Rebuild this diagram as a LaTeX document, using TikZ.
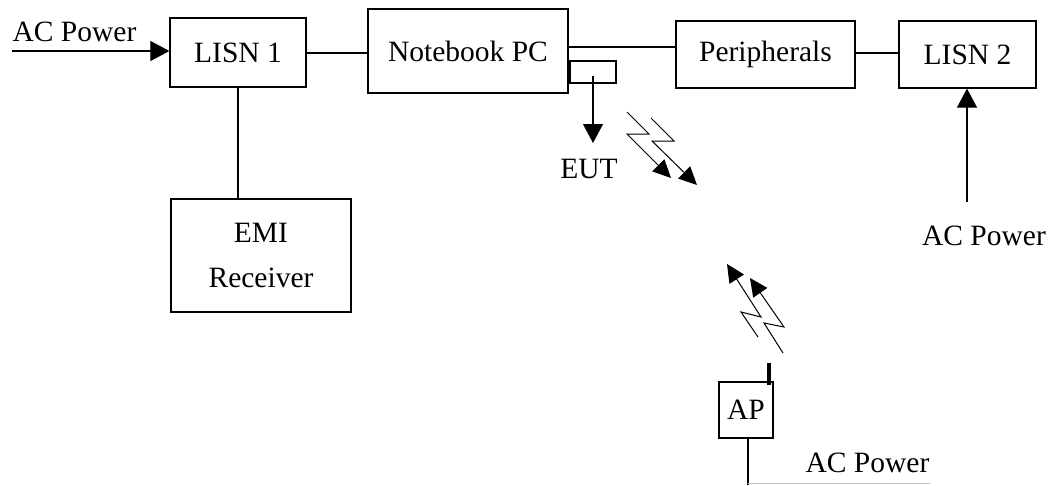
\documentclass[tikz,border=0pt]{standalone}
\usepackage{fontspec}
\setmainfont{Liberation Serif}
\usetikzlibrary{arrows.meta}
\begin{document}
\begin{tikzpicture}[x=1pt,y=-1pt,
  every node/.style={font=\fontsize{29.5}{45.5}\selectfont, inner sep=0pt},
  blk/.style={draw, line width=1.2pt},
  wire/.style={line width=1.1pt},
  arr/.style={wire, -{Triangle[length=19pt,width=20pt]}},
  bolt/.style={line width=1pt, -{Triangle[length=18pt,width=17pt]}},
  lbl/.style={}]
\useasboundingbox (0,0) rectangle (1052,485);
% boxes
\node[blk, minimum width=136pt, minimum height=69pt] (lisn1) at (238,52.5) {LISN 1};
\node[blk, minimum width=200pt, minimum height=84pt] (nb) at (468,51) {\raisebox{-3pt}{Notebook PC}};
\node[blk, minimum width=179pt, minimum height=67pt] (per) at (765.5,54.5) {\raisebox{-2pt}{Peripherals}};
\node[blk, minimum width=137pt, minimum height=67pt] (lisn2) at (967.5,54.5) {LISN 2};
\node[blk, minimum width=180pt, minimum height=113pt, align=center] (emi) at (261,255.5) {EMI\\Receiver};
\node[blk, minimum width=46pt, minimum height=22pt] (card) at (593,72) {};
\node[blk, minimum width=54pt, minimum height=56pt] (ap) at (746,410) {AP};
% labels
\node[lbl] (acl) at (74.5,32) {AC Power};
\node[lbl] (eut) at (589,169) {EUT};
\node[lbl] (acr) at (984,236) {AC Power};
\node[lbl] (acb) at (867.5,463) {AC Power};
% coordinates
\coordinate (acin) at (12,51);
\coordinate (eutt) at (593,143);
\coordinate (cards) at (593,76);
\coordinate (acr0) at (967,202);
\coordinate (apb) at (748,485);
\coordinate (gl0) at (748,483);
\coordinate (gl1) at (930,483);
\coordinate (ant0) at (769,363);
\coordinate (ant1) at (769,385);
% connectors
\draw[arr] (acin) -- (acin -| lisn1.west);
\draw[wire] (lisn1.east |- 0,53) -- (nb.west |- 0,53);
\draw[wire] (nb.east |- 0,47) -- (per.west |- 0,47);
\draw[wire] (per.east |- 0,53) -- (lisn2.west |- 0,53);
\draw[wire] (lisn1.south) -- (lisn1.south |- emi.north);
\draw[arr] (cards) -- (eutt);
\draw[arr] (acr0) -- (acr0 |- lisn2.south);
\draw[wire] (ap.south -| apb) -- (apb);
\draw[line width=1pt, black!25] (gl0) -- (gl1);
\draw[line width=3.2pt] (ant0) -- (ant1);
% lightning bolts
\draw[bolt] (627,112) -- (649,134) -- (627,134) -- (671,178);
\draw[bolt] (651,118) -- (674,141) -- (652,141) -- (697,185);
\draw[bolt] (758,337) -- (741,312) -- (761,317) -- (727,264);
\draw[bolt] (783,353) -- (764,323) -- (784,327) -- (750,278);
\end{tikzpicture}
\end{document}
